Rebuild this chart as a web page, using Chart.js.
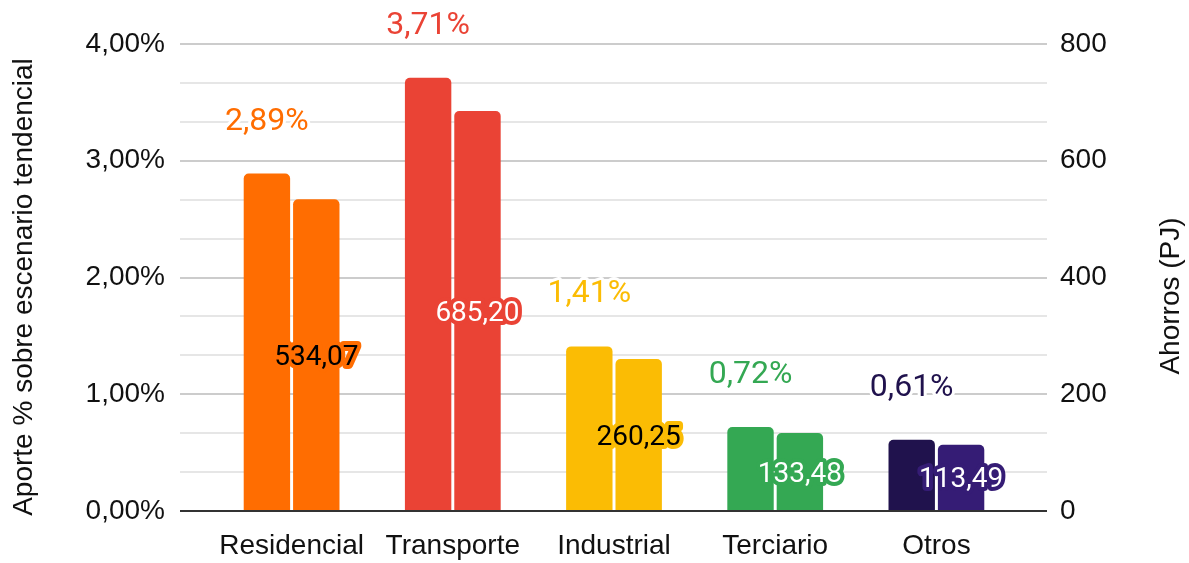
<!DOCTYPE html>
<html>
<head>
<meta charset="utf-8">
<script src="https://cdn.jsdelivr.net/npm/chart.js@4"></script>
<style>
body{margin:0;background:#fff;}
#wrap{width:1189px;height:563px;position:relative;}
</style>
</head>
<body>
<div id="wrap"><canvas id="chart"></canvas></div>
<script>

// DATA

const categories = ["Residencial","Transporte","Industrial","Terciario","Otros"];
const aporte = [2.89,3.71,1.41,0.72,0.61];
const ahorros = [534.07,685.20,260.25,133.48,113.49];

const leftTicks = ["0,00%","1,00%","2,00%","3,00%","4,00%"];
const rightTicks = ["0","200","400","600","800"];

const colorsAporte = ["#ff6d01","#ea4335","#fbbc04","#34a853","#20124d"];
const colorsAhorros = ["#ff6d01","#ea4335","#fbbc04","#34a853","#351c75"];
const textAhorros = ["#000000","#ffffff","#000000","#ffffff","#ffffff"];

const axisFont = "Liberation Sans, Arial, sans-serif";
const labelFont = "Roboto, sans-serif";
const axisColor = "#111111";

function fmt(v){
    return v.toFixed(2).replace(".",",");
}

function gridColor(c){
    if(c.tick && c.tick.value === 0) return "#333333";
    return c.index % 3 === 0 ? "#cccccc" : "#e6e6e6";
}

// LABELS + TITLES

const labelPlugin = {
    id:"labels",
    afterDatasetsDraw(chart){
        const ctx = chart.ctx;
        ctx.save();
        ctx.textAlign = "center";
        ctx.textBaseline = "middle";
        ctx.lineJoin = "round";

        chart.getDatasetMeta(0).data.forEach((bar,i) => {
            const txt = fmt(aporte[i]) + "%";
            ctx.font = "32px " + labelFont;
            ctx.lineWidth = 6;
            ctx.strokeStyle = "#ffffff";
            ctx.strokeText(txt, bar.x, bar.y - 52);
            ctx.fillStyle = colorsAporte[i];
            ctx.fillText(txt, bar.x, bar.y - 52);
        });

        chart.getDatasetMeta(1).data.forEach((bar,i) => {
            const txt = fmt(ahorros[i]);
            const y = (bar.y + bar.base) / 2 + 3;
            ctx.font = "28px " + labelFont;
            ctx.lineWidth = 8;
            ctx.strokeStyle = colorsAhorros[i];
            ctx.strokeText(txt, bar.x, y);
            ctx.fillStyle = textAhorros[i];
            ctx.fillText(txt, bar.x, y);
        });

        ctx.restore();
    },
    afterDraw(chart){
        const ctx = chart.ctx;
        ctx.save();
        ctx.font = "28px " + axisFont;
        ctx.fillStyle = axisColor;
        ctx.textAlign = "center";
        ctx.textBaseline = "middle";
        ctx.translate(24, 287);
        ctx.rotate(-Math.PI/2);
        ctx.fillText("Aporte % sobre escenario tendencial", 0, 0);
        ctx.restore();

        ctx.save();
        ctx.font = "28px " + axisFont;
        ctx.fillStyle = axisColor;
        ctx.textAlign = "center";
        ctx.textBaseline = "middle";
        ctx.translate(1171, 296);
        ctx.rotate(-Math.PI/2);
        ctx.fillText("Ahorros (PJ)", 0, 0);
        ctx.restore();
    }
};

// CHART

new Chart(document.getElementById("chart"),{

    type:"bar",

    data:{
        labels:categories,
        datasets:[
            {
                label:"Aporte",
                data:aporte,
                yAxisID:"y",
                backgroundColor:colorsAporte,
                borderRadius:{topLeft:5,topRight:5,bottomLeft:0,bottomRight:0},
                borderSkipped:false,
                categoryPercentage:0.6125,
                barPercentage:0.94
            },
            {
                label:"Ahorros",
                data:ahorros,
                yAxisID:"y1",
                backgroundColor:colorsAhorros,
                borderRadius:{topLeft:5,topRight:5,bottomLeft:0,bottomRight:0},
                borderSkipped:false,
                categoryPercentage:0.6125,
                barPercentage:0.94
            }
        ]
    },

    options:{
        responsive:true,
        maintainAspectRatio:false,
        animation:false,
        layout:{ padding:{ top:44, bottom:0, left:0, right:0 } },
        plugins:{
            legend:{ display:false },
            tooltip:{ enabled:false }
        },
        scales:{
            x:{
                grid:{ display:false, drawTicks:false },
                border:{ display:false },
                ticks:{
                    padding:18,
                    color:axisColor,
                    font:{ family:axisFont, size:28 }
                },
                afterFit(s){ s.height = 52; }
            },
            y:{
                position:"left",
                min:0,
                max:4,
                border:{ display:false },
                grid:{ color:gridColor, lineWidth:2, tickLength:31 },
                ticks:{
                    count:13,
                    autoSkip:false,
                    padding:15,
                    color:axisColor,
                    font:{ family:axisFont, size:28 },
                    callback:(v,i) => i % 3 === 0 ? leftTicks[i/3] : ""
                },
                afterFit(s){ s.width = 211; }
            },
            y1:{
                position:"right",
                min:0,
                max:800,
                border:{ display:false },
                grid:{ color:gridColor, lineWidth:2, tickLength:30, drawOnChartArea:false },
                ticks:{
                    count:13,
                    autoSkip:false,
                    padding:13,
                    color:axisColor,
                    font:{ family:axisFont, size:28 },
                    callback:(v,i) => i % 3 === 0 ? rightTicks[i/3] : ""
                },
                afterFit(s){ s.width = 172; }
            }
        }
    },

    plugins:[labelPlugin]
});

</script>
</body>
</html>
